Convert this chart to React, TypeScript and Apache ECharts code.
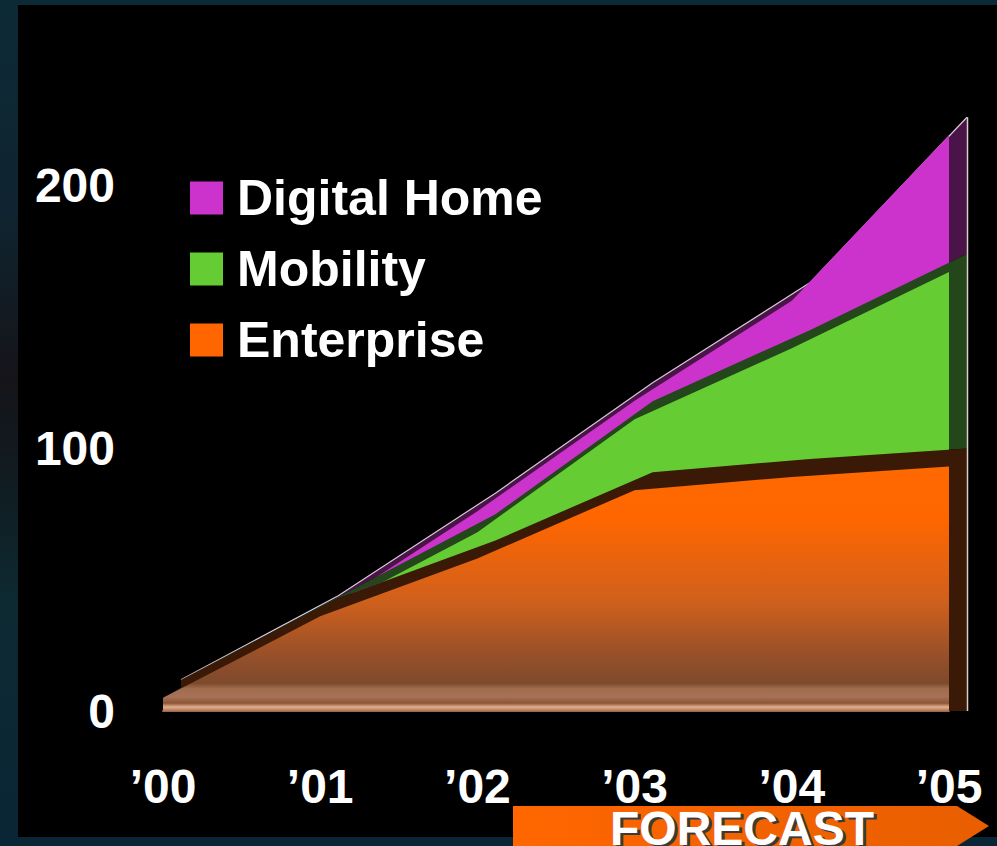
import React, { useEffect, useRef } from "react";
import * as echarts from "echarts";

const years = ["’00", "’01", "’02", "’03", "’04", "’05"];
const enterprise = [5, 36, 58, 84, 89, 93];
const mobility = [0, 0.5, 10, 27, 49, 74];
const digitalHome = [0, 0.5, 8, 7, 18, 52];
const yTickValues = [0, 100, 200];
const seriesNames = ["Digital Home", "Mobility", "Enterprise"];
const forecastLabel = "FORECAST";

const W = 997;
const H = 846;
const ZERO_Y = 711;
const TOP_Y = 80;
const Y_MAX = 240;
const GRID_LEFT = 163;
const GRID_RIGHT = 48;
const DX = 18;
const DY = 18;
const FONT = '"Liberation Sans", Arial, Helvetica, sans-serif';

export default function App() {
  const ref = useRef<HTMLDivElement>(null);

  useEffect(() => {
    document.body.style.margin = "0";
    const chart = echarts.init(ref.current!, null, { renderer: "svg", width: W, height: H });
    const ppu = (ZERO_Y - TOP_Y) / Y_MAX;
    const backMin = -DY / ppu;

    const entGrad = new echarts.graphic.LinearGradient(
      0, 448, 0, ZERO_Y,
      [
        { offset: 0, color: "#FF6A00" },
        { offset: 0.27, color: "#FF6600" },
        { offset: 0.58, color: "#D0601C" },
        { offset: 0.8, color: "#944F2A" },
        { offset: 0.895, color: "#7E4A2C" },
        { offset: 0.915, color: "#A06C4E" },
        { offset: 0.945, color: "#A87258" },
        { offset: 0.97, color: "#8C5636" },
        { offset: 0.985, color: "#E2B090" },
        { offset: 1, color: "#B07050" },
      ],
      true
    );

    const base = {
      type: "line",
      symbol: "none",
      silent: true,
      smooth: false,
    };

    const series: any[] = [
      // back copies (3D depth)
      {
        ...base, name: "bk-ent", stack: "back", xAxisIndex: 1, yAxisIndex: 1, z: 5,
        data: enterprise, lineStyle: { width: 0, opacity: 0 },
        areaStyle: { color: "#3A1A06", opacity: 1, origin: "start" },
        itemStyle: { color: "#3A1A06" },
      },
      {
        ...base, name: "bk-mob", stack: "back", xAxisIndex: 1, yAxisIndex: 1, z: 3,
        data: mobility, lineStyle: { width: 0, opacity: 0 },
        areaStyle: { color: "#23461A", opacity: 1 },
        itemStyle: { color: "#23461A" },
      },
      {
        ...base, name: "bk-dig", stack: "back", xAxisIndex: 1, yAxisIndex: 1, z: 1,
        data: digitalHome, lineStyle: { width: 1.2, color: "#d8c8d8" },
        areaStyle: { color: "#4A1448", opacity: 1 },
        itemStyle: { color: "#4A1448" },
      },
      // front faces
      {
        ...base, name: "Enterprise", stack: "front", xAxisIndex: 0, yAxisIndex: 0, z: 6,
        data: enterprise, lineStyle: { width: 0, opacity: 0 },
        areaStyle: { color: entGrad, opacity: 1 },
        itemStyle: { color: "#FF6600" },
      },
      {
        ...base, name: "Mobility", stack: "front", xAxisIndex: 0, yAxisIndex: 0, z: 4,
        data: mobility, lineStyle: { width: 0, opacity: 0 },
        areaStyle: { color: "#66CC33", opacity: 1 },
        itemStyle: { color: "#66CC33" },
      },
      {
        ...base, name: "Digital Home", stack: "front", xAxisIndex: 0, yAxisIndex: 0, z: 2,
        data: digitalHome, lineStyle: { width: 0, opacity: 0 },
        areaStyle: { color: "#CC33CC", opacity: 1 },
        itemStyle: { color: "#CC33CC" },
      },
    ];

    const option: any = {
      animation: false,
      backgroundColor: "transparent",
      grid: [
        { left: GRID_LEFT, right: GRID_RIGHT, top: TOP_Y, bottom: H - ZERO_Y },
        { left: GRID_LEFT + DX, right: GRID_RIGHT - DX, top: TOP_Y - DY, bottom: H - ZERO_Y },
      ],
      xAxis: [
        {
          type: "category", gridIndex: 0, data: years, boundaryGap: false,
          axisLine: { show: true, lineStyle: { color: "#9A6A4A", width: 2 } },
          axisTick: { show: false },
          axisLabel: {
            color: "#fff", fontSize: 48, fontWeight: "bold", fontFamily: FONT,
            margin: 55, lineHeight: 40,
          },
          splitLine: { show: false },
        },
        {
          type: "category", gridIndex: 1, data: years, boundaryGap: false, show: false,
        },
      ],
      yAxis: [
        {
          type: "value", gridIndex: 0, min: 0, max: Y_MAX, interval: 100,
          axisLine: { show: false }, axisTick: { show: false }, splitLine: { show: false },
          axisLabel: {
            color: "#fff", fontSize: 48, fontWeight: "bold", fontFamily: FONT, margin: 48,
            formatter: (v: number) => (yTickValues.indexOf(v) >= 0 ? String(v) : ""),
          },
        },
        {
          type: "value", gridIndex: 1, min: backMin, max: Y_MAX, show: false,
          splitLine: { show: false },
        },
      ],
      legend: {
        orient: "vertical", left: 190, top: 173, padding: 0,
        itemWidth: 33, itemHeight: 33, itemGap: 21, icon: "rect",
        selectedMode: false,
        data: seriesNames,
        itemStyle: { borderWidth: 0 },
        textStyle: {
          color: "#fff", fontSize: 50, fontWeight: "bold", fontFamily: FONT,
          lineHeight: 50, padding: [0, 0, 0, 9],
        },
      },
      series,
    };

    chart.setOption(option);

    const lastIdx = years.length - 1;
    const total = enterprise[lastIdx] + mobility[lastIdx] + digitalHome[lastIdx];
    const pTop = chart.convertToPixel({ xAxisIndex: 1, yAxisIndex: 1 } as any, [lastIdx, total]) as number[];
    const pBase = chart.convertToPixel({ xAxisIndex: 0, yAxisIndex: 0 } as any, [0, 0]) as number[];

    const arrowGrad = new echarts.graphic.LinearGradient(0, 0, 1, 0, [
      { offset: 0, color: "#FF6600" },
      { offset: 1, color: "#E85E00" },
    ]);

    chart.setOption({
      graphic: [
        {
          type: "line", z: 100, silent: true,
          shape: { x1: pTop[0] + 0.5, y1: pTop[1], x2: pTop[0] + 0.5, y2: pBase[1] },
          style: { stroke: "#d9cfc9", lineWidth: 1.5 },
        },
        {
          type: "polygon", z: 100, silent: true,
          shape: { points: [[513, 806], [957, 806], [989, 826], [957, 846], [513, 846]] },
          style: { fill: arrowGrad },
        },
        {
          type: "text", z: 101, silent: true, x: 745, y: 814,
          style: {
            text: forecastLabel, fill: "#3a3a3a", font: `bold 48px ${FONT}`,
            textAlign: "center", textVerticalAlign: "top", lineHeight: 32,
          },
        },
        {
          type: "text", z: 102, silent: true, x: 742, y: 812,
          style: {
            text: forecastLabel, fill: "#ffffff", font: `bold 48px ${FONT}`,
            textAlign: "center", textVerticalAlign: "top", lineHeight: 32,
          },
        },
      ],
    });

    return () => chart.dispose();
  }, []);

  return (
    <div
      style={{
        position: "relative",
        width: W,
        height: H,
        overflow: "hidden",
        background:
          "linear-gradient(180deg, #0c2a36 0%, #0f2430 25%, #151419 45%, #101d22 58%, #0d2a33 72%, #0a2535 100%)",
      }}
    >
      <div
        style={{
          position: "absolute",
          left: 18,
          top: 5,
          width: W - 18,
          height: 832,
          background: "#000",
        }}
      />
      <div ref={ref} style={{ position: "absolute", left: 0, top: 0, width: W, height: H }} />
    </div>
  );
}
